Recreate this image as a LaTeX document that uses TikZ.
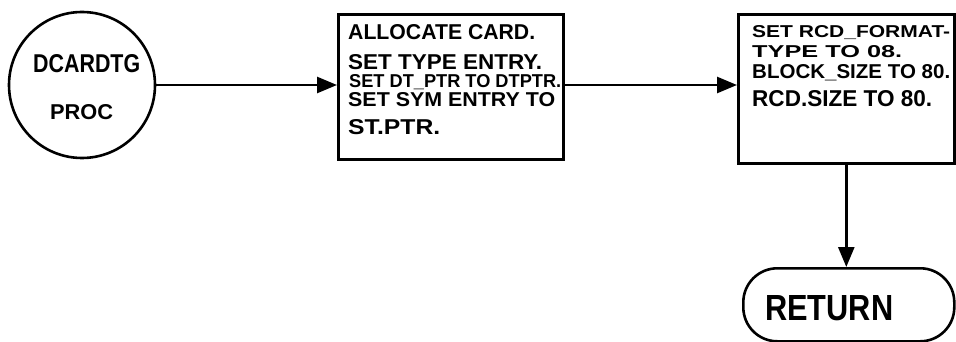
\documentclass[tikz,border=0pt]{standalone}
\usepackage{fontspec}
\setmainfont{Liberation Sans}
\usetikzlibrary{arrows.meta}
\newcommand\fitline[3]{\resizebox{#1}{#2}{#3}}
\tikzset{
  ink/.style={line width=2.6pt, black},
  procbox/.style={ink, draw, rectangle, inner sep=0pt, anchor=north west},
  lbl/.style={anchor=base west, inner sep=0pt, font=\bfseries},
  flow/.style={ink, -{Triangle[length=20pt,width=16pt]}},
}
\begin{document}
\begin{tikzpicture}[x=1pt,y=-1pt]
\useasboundingbox (0,0) rectangle (956,342);
% shapes
\node[ink, draw, circle, minimum size=146pt, inner sep=0pt] (start) at (82,85) {};
\node[procbox, minimum width=225pt, minimum height=145pt] (alloc) at (337,13) {};
\node[procbox, minimum width=216pt, minimum height=149pt] (setfmt) at (737,13) {};
\node[ink, draw, rectangle, rounded corners=34pt, inner sep=0pt, anchor=north west,
      minimum width=211pt, minimum height=73pt] (ret) at (742,267) {};
% texts
\node[lbl] (t1) at (33,73) {\fitline{107pt}{18pt}{DCARDTG}};
\node[lbl] (t2) at (50,120) {\fitline{63pt}{15pt}{PROC}};
\node[lbl] (a1) at (348,40) {\fitline{187pt}{15pt}{ALLOCATE CARD.}};
\node[lbl] (a2) at (348,70) {\fitline{194pt}{15pt}{SET TYPE ENTRY.}};
\node[lbl] (a3) at (349,88) {\fitline{212pt}{13pt}{SET DT\_PTR TO DTPTR.}};
\node[lbl] (a4) at (348,107) {\fitline{207pt}{14pt}{SET SYM ENTRY TO}};
\node[lbl] (a5) at (348,135) {\fitline{92pt}{15pt}{ST.PTR.}};
\node[lbl] (b1) at (752,38) {\fitline{198pt}{12pt}{SET RCD\_FORMAT-}};
\node[lbl] (b2) at (752,58) {\fitline{150pt}{12pt}{TYPE TO 08.}};
\node[lbl] (b3) at (752,79) {\fitline{198pt}{14pt}{BLOCK\_SIZE TO 80.}};
\node[lbl] (b4) at (752,107) {\fitline{180pt}{16pt}{RCD.SIZE TO 80.}};
\node[lbl] (r1) at (765,320) {\fitline{128pt}{25pt}{RETURN}};
% connectors
\draw[flow] (start.east) -- (start.east -| alloc.west);
\draw[flow] (alloc.east |- start.east) -- (start.east -| setfmt.west);
\draw[flow] (setfmt.south) -- (setfmt.south |- ret.north);
\end{tikzpicture}
\end{document}
